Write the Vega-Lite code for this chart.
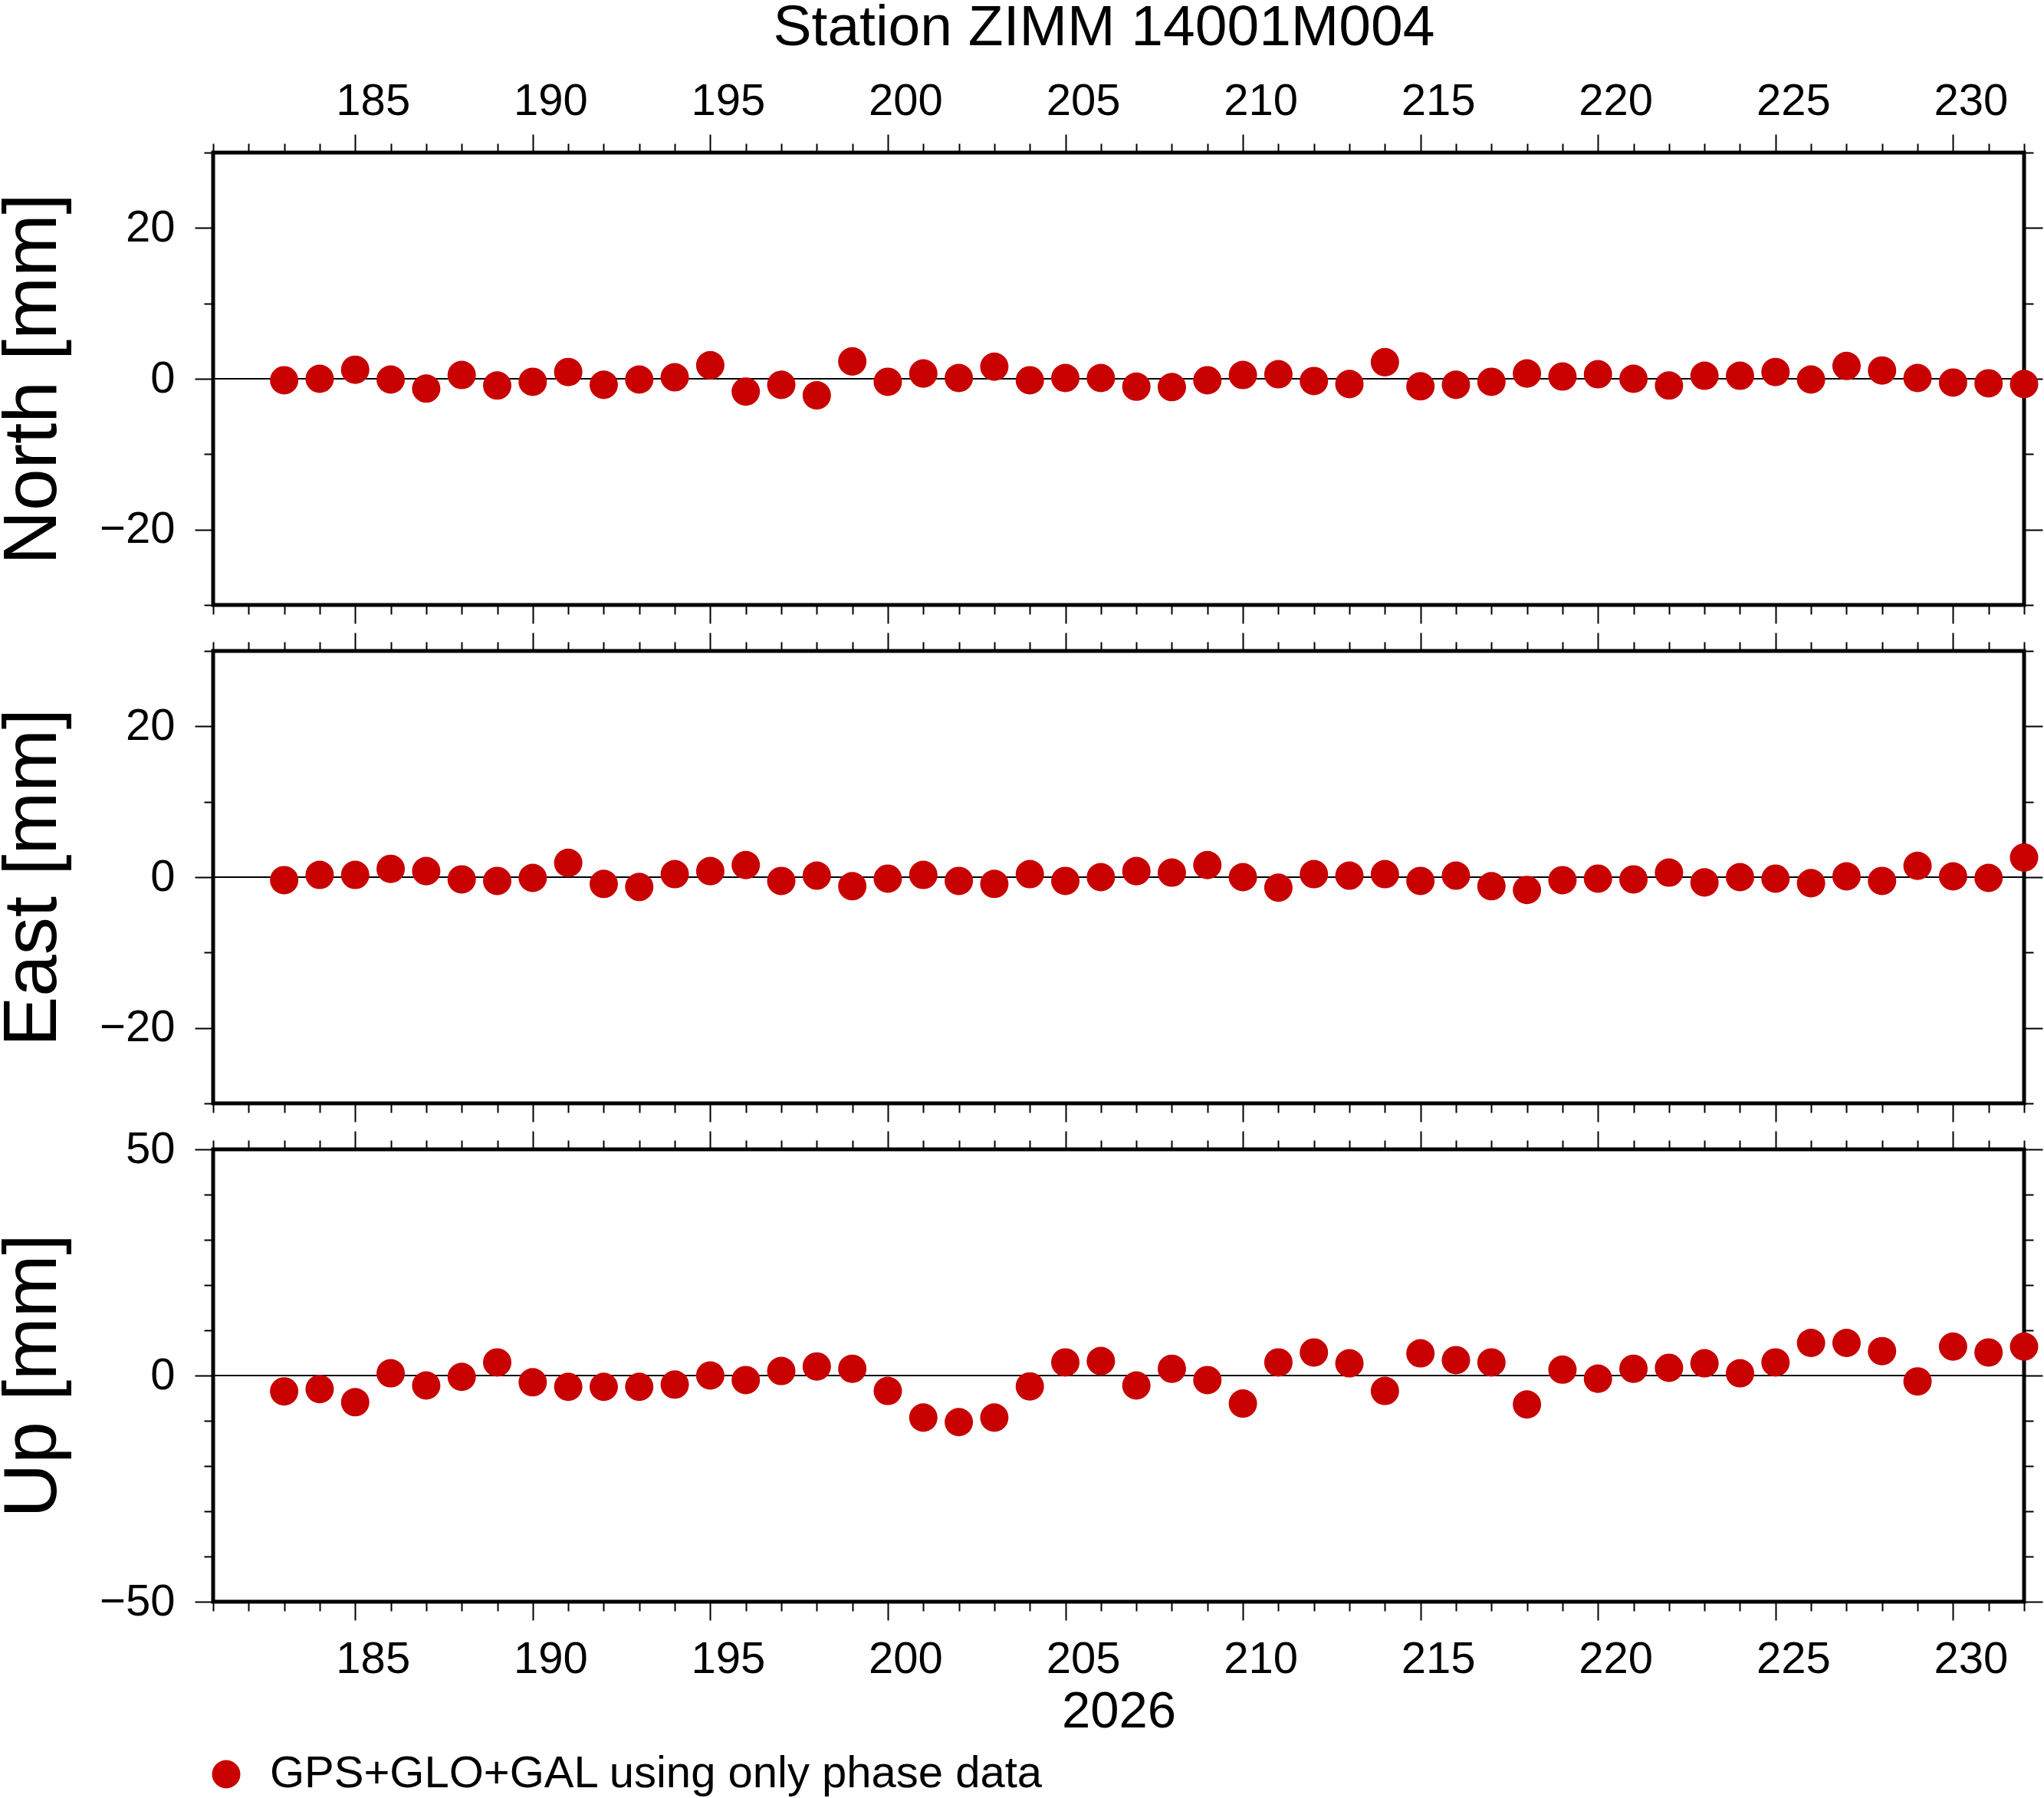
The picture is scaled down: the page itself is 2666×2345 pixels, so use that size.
{
 "$schema": "https://vega.github.io/schema/vega-lite/v6.json",
 "background": "white",
 "padding": {"left": -8, "top": -4, "right": 0, "bottom": 0},
 "config": {
  "view": {"stroke": "black", "strokeWidth": 5},
  "font": "Liberation Sans",
  "axis": {"labelFont": "Liberation Sans", "titleFont": "Liberation Sans", "labelFontSize": 58, "labelColor": "black", "tickColor": "black", "tickWidth": 2, "domain": false, "grid": false, "titleFontWeight": "normal", "titleColor": "black", "labelOverlap": false, "labelFlush": false, "labelBound": false}
 },
 "datasets": {
  "gnss": [
   {"day":183,"north":-0.2,"east":-0.4,"up":-3.5,"series":"GPS+GLO+GAL using only phase data"},
   {"day":184,"north":0.0,"east":0.3,"up":-3.0,"series":"GPS+GLO+GAL using only phase data"},
   {"day":185,"north":1.2,"east":0.3,"up":-5.9,"series":"GPS+GLO+GAL using only phase data"},
   {"day":186,"north":-0.1,"east":1.1,"up":0.5,"series":"GPS+GLO+GAL using only phase data"},
   {"day":187,"north":-1.3,"east":0.8,"up":-2.2,"series":"GPS+GLO+GAL using only phase data"},
   {"day":188,"north":0.5,"east":-0.3,"up":-0.3,"series":"GPS+GLO+GAL using only phase data"},
   {"day":189,"north":-0.9,"east":-0.5,"up":2.9,"series":"GPS+GLO+GAL using only phase data"},
   {"day":190,"north":-0.4,"east":-0.1,"up":-1.5,"series":"GPS+GLO+GAL using only phase data"},
   {"day":191,"north":0.9,"east":1.9,"up":-2.5,"series":"GPS+GLO+GAL using only phase data"},
   {"day":192,"north":-0.8,"east":-0.9,"up":-2.5,"series":"GPS+GLO+GAL using only phase data"},
   {"day":193,"north":-0.1,"east":-1.3,"up":-2.5,"series":"GPS+GLO+GAL using only phase data"},
   {"day":194,"north":0.2,"east":0.4,"up":-2.0,"series":"GPS+GLO+GAL using only phase data"},
   {"day":195,"north":1.8,"east":0.8,"up":0.0,"series":"GPS+GLO+GAL using only phase data"},
   {"day":196,"north":-1.7,"east":1.6,"up":-1.0,"series":"GPS+GLO+GAL using only phase data"},
   {"day":197,"north":-0.8,"east":-0.5,"up":1.0,"series":"GPS+GLO+GAL using only phase data"},
   {"day":198,"north":-2.2,"east":0.2,"up":2.0,"series":"GPS+GLO+GAL using only phase data"},
   {"day":199,"north":2.3,"east":-1.2,"up":1.5,"series":"GPS+GLO+GAL using only phase data"},
   {"day":200,"north":-0.4,"east":-0.2,"up":-3.4,"series":"GPS+GLO+GAL using only phase data"},
   {"day":201,"north":0.7,"east":0.3,"up":-9.3,"series":"GPS+GLO+GAL using only phase data"},
   {"day":202,"north":0.1,"east":-0.5,"up":-10.3,"series":"GPS+GLO+GAL using only phase data"},
   {"day":203,"north":1.6,"east":-0.9,"up":-9.3,"series":"GPS+GLO+GAL using only phase data"},
   {"day":204,"north":-0.2,"east":0.4,"up":-2.4,"series":"GPS+GLO+GAL using only phase data"},
   {"day":205,"north":0.1,"east":-0.5,"up":2.9,"series":"GPS+GLO+GAL using only phase data"},
   {"day":206,"north":0.1,"east":0.0,"up":3.2,"series":"GPS+GLO+GAL using only phase data"},
   {"day":207,"north":-1.05,"east":0.8,"up":-2.2,"series":"GPS+GLO+GAL using only phase data"},
   {"day":208,"north":-1.1,"east":0.6,"up":1.5,"series":"GPS+GLO+GAL using only phase data"},
   {"day":209,"north":-0.2,"east":1.6,"up":-1.0,"series":"GPS+GLO+GAL using only phase data"},
   {"day":210,"north":0.5,"east":0.0,"up":-6.2,"series":"GPS+GLO+GAL using only phase data"},
   {"day":211,"north":0.6,"east":-1.4,"up":2.9,"series":"GPS+GLO+GAL using only phase data"},
   {"day":212,"north":-0.3,"east":0.4,"up":5.1,"series":"GPS+GLO+GAL using only phase data"},
   {"day":213,"north":-0.7,"east":0.2,"up":2.7,"series":"GPS+GLO+GAL using only phase data"},
   {"day":214,"north":2.2,"east":0.4,"up":-3.4,"series":"GPS+GLO+GAL using only phase data"},
   {"day":215,"north":-1.0,"east":-0.5,"up":4.9,"series":"GPS+GLO+GAL using only phase data"},
   {"day":216,"north":-0.8,"east":0.2,"up":3.4,"series":"GPS+GLO+GAL using only phase data"},
   {"day":217,"north":-0.4,"east":-1.2,"up":2.9,"series":"GPS+GLO+GAL using only phase data"},
   {"day":218,"north":0.7,"east":-1.7,"up":-6.4,"series":"GPS+GLO+GAL using only phase data"},
   {"day":219,"north":0.3,"east":-0.4,"up":1.3,"series":"GPS+GLO+GAL using only phase data"},
   {"day":220,"north":0.6,"east":-0.2,"up":-0.7,"series":"GPS+GLO+GAL using only phase data"},
   {"day":221,"north":0.0,"east":-0.3,"up":1.5,"series":"GPS+GLO+GAL using only phase data"},
   {"day":222,"north":-0.9,"east":0.6,"up":1.7,"series":"GPS+GLO+GAL using only phase data"},
   {"day":223,"north":0.4,"east":-0.7,"up":2.7,"series":"GPS+GLO+GAL using only phase data"},
   {"day":224,"north":0.4,"east":0.0,"up":0.5,"series":"GPS+GLO+GAL using only phase data"},
   {"day":225,"north":0.9,"east":-0.2,"up":2.9,"series":"GPS+GLO+GAL using only phase data"},
   {"day":226,"north":-0.1,"east":-0.8,"up":7.2,"series":"GPS+GLO+GAL using only phase data"},
   {"day":227,"north":1.7,"east":0.1,"up":7.2,"series":"GPS+GLO+GAL using only phase data"},
   {"day":228,"north":1.1,"east":-0.5,"up":5.4,"series":"GPS+GLO+GAL using only phase data"},
   {"day":229,"north":0.1,"east":1.5,"up":-1.3,"series":"GPS+GLO+GAL using only phase data"},
   {"day":230,"north":-0.5,"east":0.1,"up":6.4,"series":"GPS+GLO+GAL using only phase data"},
   {"day":231,"north":-0.6,"east":-0.1,"up":5.1,"series":"GPS+GLO+GAL using only phase data"},
   {"day":232,"north":-0.7,"east":2.6,"up":6.4,"series":"GPS+GLO+GAL using only phase data"}
  ]
 },
 "spacing": 60,
 "bounds": "flush",
 "vconcat": [
  {
   "width": 2362, "height": 590,
   "data": {"name": "gnss"},
   "title": {"text": "Station ZIMM 14001M004", "fontSize": 75, "fontWeight": "normal", "font": "Liberation Sans", "color": "black", "anchor": "middle", "frame": "group", "offset": 28, "dx": -19},
   "layer": [
    {"mark": {"type": "rule", "color": "black", "strokeWidth": 1},
     "encoding": {
      "x": {"datum": 181, "type": "quantitative", "scale": {"domain": [181, 232], "nice": false, "zero": false},
            "axis": {"orient": "top", "title": null, "values": [181,182,183,184,185,186,187,188,189,190,191,192,193,194,195,196,197,198,199,200,201,202,203,204,205,206,207,208,209,210,211,212,213,214,215,216,217,218,219,220,221,222,223,224,225,226,227,228,229,230,231,232],
                     "tickSize": {"condition": {"test": "datum.value % 5 === 0", "value": 24}, "value": 12},
                     "labelExpr": "datum.value % 5 === 0 ? datum.label : ''", "labelOffset": 23, "labelPadding": 14}},
      "x2": {"datum": 232},
      "y": {"datum": 0, "type": "quantitative", "scale": {"domain": [-30, 30], "nice": false, "zero": false},
            "axis": {"orient": "right", "title": null, "labels": false, "values": [-30,-20,-10,0,10,20,30],
                     "tickSize": {"condition": {"test": "datum.value % 20 === 0", "value": 24}, "value": 12}}}
     }},
    {"mark": {"type": "circle", "size": 1370, "opacity": 1},
     "encoding": {
      "x": {"field": "day", "type": "quantitative",
            "axis": {"orient": "bottom", "title": null, "labels": false, "values": [181,182,183,184,185,186,187,188,189,190,191,192,193,194,195,196,197,198,199,200,201,202,203,204,205,206,207,208,209,210,211,212,213,214,215,216,217,218,219,220,221,222,223,224,225,226,227,228,229,230,231,232],
                     "tickSize": {"condition": {"test": "datum.value % 5 === 0", "value": 24}, "value": 12}}},
      "y": {"field": "north", "type": "quantitative",
            "axis": {"orient": "left", "title": "North [mm]", "titleFontSize": 98, "titlePadding": 36, "values": [-30,-20,-10,0,10,20,30],
                     "tickSize": {"condition": {"test": "datum.value % 20 === 0", "value": 24}, "value": 12},
                     "labelExpr": "datum.value % 20 === 0 ? datum.label : ''", "labelPadding": 26}},
      "color": {"field": "series", "type": "nominal", "scale": {"range": ["#c80000"]},
                "legend": {"orient": "none", "legendX": -12, "legendY": 2086, "title": null, "symbolType": "circle", "symbolSize": 1370, "symbolStrokeWidth": 0, "symbolOpacity": 1, "labelFontSize": 58, "labelFont": "Liberation Sans", "labelColor": "black", "labelOffset": 28, "padding": 0, "labelLimit": 2000}}
     }}
   ],
   "resolve": {"axis": {"x": "independent", "y": "independent"}}
  },
  {
   "width": 2362, "height": 590,
   "data": {"name": "gnss"},
   "layer": [
    {"mark": {"type": "rule", "color": "black", "strokeWidth": 1},
     "encoding": {
      "x": {"datum": 181, "type": "quantitative", "scale": {"domain": [181, 232], "nice": false, "zero": false},
            "axis": {"orient": "top", "title": null, "labels": false, "values": [181,182,183,184,185,186,187,188,189,190,191,192,193,194,195,196,197,198,199,200,201,202,203,204,205,206,207,208,209,210,211,212,213,214,215,216,217,218,219,220,221,222,223,224,225,226,227,228,229,230,231,232],
                     "tickSize": {"condition": {"test": "datum.value % 5 === 0", "value": 24}, "value": 12}}},
      "x2": {"datum": 232},
      "y": {"datum": 0, "type": "quantitative", "scale": {"domain": [-30, 30], "nice": false, "zero": false},
            "axis": {"orient": "right", "title": null, "labels": false, "values": [-30,-20,-10,0,10,20,30],
                     "tickSize": {"condition": {"test": "datum.value % 20 === 0", "value": 24}, "value": 12}}}
     }},
    {"mark": {"type": "circle", "size": 1370, "opacity": 1},
     "encoding": {
      "x": {"field": "day", "type": "quantitative",
            "axis": {"orient": "bottom", "title": null, "labels": false, "values": [181,182,183,184,185,186,187,188,189,190,191,192,193,194,195,196,197,198,199,200,201,202,203,204,205,206,207,208,209,210,211,212,213,214,215,216,217,218,219,220,221,222,223,224,225,226,227,228,229,230,231,232],
                     "tickSize": {"condition": {"test": "datum.value % 5 === 0", "value": 24}, "value": 12}}},
      "y": {"field": "east", "type": "quantitative",
            "axis": {"orient": "left", "title": "East [mm]", "titleFontSize": 98, "titlePadding": 36, "values": [-30,-20,-10,0,10,20,30],
                     "tickSize": {"condition": {"test": "datum.value % 20 === 0", "value": 24}, "value": 12},
                     "labelExpr": "datum.value % 20 === 0 ? datum.label : ''", "labelPadding": 26}},
      "color": {"field": "series", "type": "nominal", "scale": {"range": ["#c80000"]},
                "legend": {"orient": "none", "legendX": -12, "legendY": 2086, "title": null, "symbolType": "circle", "symbolSize": 1370, "symbolStrokeWidth": 0, "symbolOpacity": 1, "labelFontSize": 58, "labelFont": "Liberation Sans", "labelColor": "black", "labelOffset": 28, "padding": 0, "labelLimit": 2000}}
     }}
   ],
   "resolve": {"axis": {"x": "independent", "y": "independent"}}
  },
  {
   "width": 2362, "height": 590,
   "data": {"name": "gnss"},
   "layer": [
    {"mark": {"type": "rule", "color": "black", "strokeWidth": 1},
     "encoding": {
      "x": {"datum": 181, "type": "quantitative", "scale": {"domain": [181, 232], "nice": false, "zero": false},
            "axis": {"orient": "top", "title": null, "labels": false, "values": [181,182,183,184,185,186,187,188,189,190,191,192,193,194,195,196,197,198,199,200,201,202,203,204,205,206,207,208,209,210,211,212,213,214,215,216,217,218,219,220,221,222,223,224,225,226,227,228,229,230,231,232],
                     "tickSize": {"condition": {"test": "datum.value % 5 === 0", "value": 24}, "value": 12}}},
      "x2": {"datum": 232},
      "y": {"datum": 0, "type": "quantitative", "scale": {"domain": [-50, 50], "nice": false, "zero": false},
            "axis": {"orient": "right", "title": null, "labels": false, "values": [-50,-40,-30,-20,-10,0,10,20,30,40,50],
                     "tickSize": {"condition": {"test": "datum.value % 50 === 0", "value": 24}, "value": 12}}}
     }},
    {"mark": {"type": "circle", "size": 1370, "opacity": 1},
     "encoding": {
      "x": {"field": "day", "type": "quantitative",
            "axis": {"orient": "bottom", "title": "2026", "titleFontSize": 67, "titlePadding": 6, "values": [181,182,183,184,185,186,187,188,189,190,191,192,193,194,195,196,197,198,199,200,201,202,203,204,205,206,207,208,209,210,211,212,213,214,215,216,217,218,219,220,221,222,223,224,225,226,227,228,229,230,231,232],
                     "tickSize": {"condition": {"test": "datum.value % 5 === 0", "value": 24}, "value": 12},
                     "labelExpr": "datum.value % 5 === 0 ? datum.label : ''", "labelOffset": 23, "labelPadding": 22}},
      "y": {"field": "up", "type": "quantitative",
            "axis": {"orient": "left", "title": "Up [mm]", "titleFontSize": 98, "titlePadding": 36, "values": [-50,-40,-30,-20,-10,0,10,20,30,40,50],
                     "tickSize": {"condition": {"test": "datum.value % 50 === 0", "value": 24}, "value": 12},
                     "labelExpr": "datum.value % 50 === 0 ? datum.label : ''", "labelPadding": 26}},
      "color": {"field": "series", "type": "nominal", "scale": {"range": ["#c80000"]},
                "legend": {"orient": "none", "legendX": -12, "legendY": 2086, "title": null, "symbolType": "circle", "symbolSize": 1370, "symbolStrokeWidth": 0, "symbolOpacity": 1, "labelFontSize": 58, "labelFont": "Liberation Sans", "labelColor": "black", "labelOffset": 28, "padding": 0, "labelLimit": 2000}}
     }}
   ],
   "resolve": {"axis": {"x": "independent", "y": "independent"}}
  }
 ]
}
